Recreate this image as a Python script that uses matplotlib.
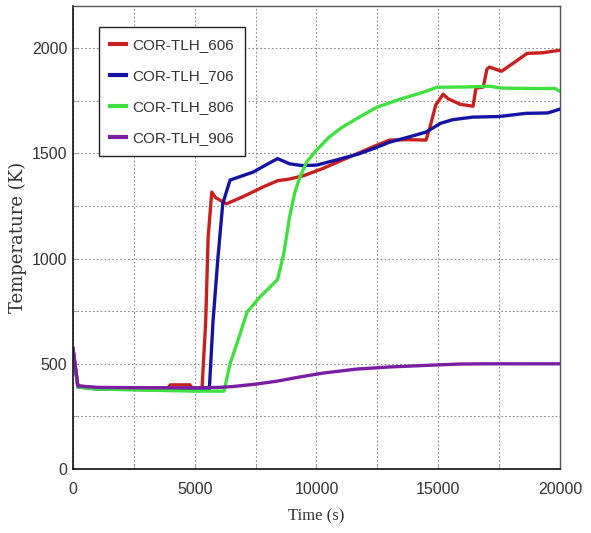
import matplotlib
matplotlib.use("Agg")
import matplotlib.pyplot as plt
from matplotlib.ticker import MultipleLocator

# curves
red_t = [0, 200, 1000, 3900, 4000, 4800, 4900, 5300, 5450, 5550, 5700, 5850, 6300, 7000, 7800,
         8400, 8900, 9500, 10300, 11000, 11700, 12400, 13000, 13800, 14500, 14650, 14900, 15200,
         15400, 15900, 16430, 16550, 16850, 17000, 17100, 17600, 18100, 18650, 19300, 20000]
red_v = [570, 395, 385, 385, 400, 400, 385, 385, 700, 1100, 1316, 1290, 1260, 1295, 1340,
         1370, 1378, 1395, 1430, 1465, 1500, 1535, 1563, 1565, 1563, 1620, 1730, 1781,
         1760, 1733, 1724, 1810, 1815, 1900, 1910, 1890, 1930, 1975, 1978, 1990]

blue_t = [0, 200, 1000, 5000, 5600, 5750, 5950, 6150, 6450, 7400, 8000, 8400, 8900, 9400, 10000,
          10700, 11700, 12400, 13000, 13800, 14500, 15100, 15600, 16400, 17500, 18600, 19500, 20000]
blue_v = [570, 390, 380, 375, 380, 700, 1000, 1260, 1373, 1411, 1450, 1475, 1450, 1442, 1444,
          1465, 1496, 1525, 1553, 1578, 1601, 1643, 1660, 1672, 1675, 1690, 1692, 1710]

green_t = [0, 200, 1000, 5000, 6200, 6450, 6800, 7150, 7700, 8400, 8650, 8900, 9100, 9320, 9600,
           10000, 10500, 11000, 11800, 12500, 13500, 14400, 14950, 16000, 17100, 17600, 19000,
           19800, 20000]
green_v = [570, 390, 380, 370, 370, 500, 620, 746, 820, 900, 1020, 1200, 1310, 1387, 1460,
           1515, 1575, 1620, 1675, 1720, 1760, 1791, 1814, 1815, 1819, 1810, 1808, 1808, 1795]

purple_t = [0, 200, 1000, 3000, 5000, 6000, 6570, 7550, 8400, 9300, 10270, 11660, 13000,
            14800, 15900, 17000, 20000]
purple_v = [575, 395, 388, 386, 386, 388, 392, 404, 418, 437, 456, 475, 485, 494, 499, 500, 500]

labels = ["COR-TLH_606", "COR-TLH_706", "COR-TLH_806", "COR-TLH_906"]
colors = ["#c8201e", "#1414a4", "#40e040", "#7b1fa2"]

sans = ["Liberation Sans", "DejaVu Sans"]

fig = plt.figure(figsize=(5.91, 5.33), dpi=100)
ax = fig.add_axes([0.1235, 0.12, 0.824, 0.8687])

series = [(red_t, red_v), (blue_t, blue_v), (green_t, green_v), (purple_t, purple_v)]
for (t, v), lab, c in zip(series, labels, colors):
    ax.plot(t, v, color=c, lw=2.4, label=lab)

ax.set_xlim(0, 20000)
ax.set_ylim(0, 2200)
ax.xaxis.set_major_locator(MultipleLocator(5000))
ax.xaxis.set_minor_locator(MultipleLocator(2500))
ax.yaxis.set_major_locator(MultipleLocator(500))
ax.yaxis.set_minor_locator(MultipleLocator(250))
ax.grid(which="both", color="#888888", ls=(0, (1.5, 2)), lw=0.8)
ax.tick_params(which="both", direction="in", length=3, color="#999999")
ax.tick_params(axis="x", labelsize=11.5, labelcolor="#333333", pad=9)
ax.tick_params(axis="y", labelsize=11.5, labelcolor="#333333", pad=4)
for lbl in ax.get_xticklabels() + ax.get_yticklabels():
    lbl.set_family(sans)

for s in ["left", "bottom"]:
    ax.spines[s].set_color("#111111")
    ax.spines[s].set_linewidth(1.2)
for s in ["top", "right"]:
    ax.spines[s].set_color("#555555")
    ax.spines[s].set_linewidth(1.0)

ax.set_xlabel("Time (s)", family=["Liberation Serif", "DejaVu Serif"], fontsize=12, color="#333333")
ax.set_ylabel("Temperature (K)", family="DejaVu Serif", fontsize=13, color="#333333")
ax.xaxis.set_label_coords(0.499, -0.084)
ax.yaxis.set_label_coords(-0.0945, 0.5)

leg = ax.legend(loc="upper left", bbox_to_anchor=(0.0534, 0.9546), borderaxespad=0,
                prop={"family": sans, "size": 11},
                handlelength=1.0, handletextpad=0.4, labelspacing=1.1, borderpad=0.75,
                fancybox=False, framealpha=1)
leg.get_frame().set_edgecolor("#222222")
leg.get_frame().set_linewidth(1.0)
for txt in leg.get_texts():
    txt.set_color("#333333")
for h in leg.get_lines():
    h.set_linewidth(3)

fig.savefig("out.png", dpi=100)
